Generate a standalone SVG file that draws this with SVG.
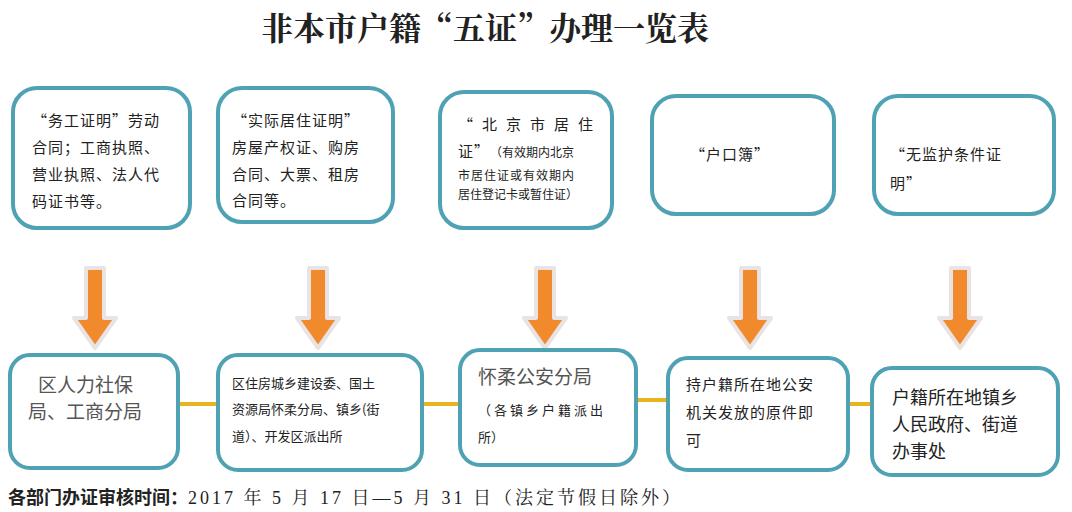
<svg xmlns="http://www.w3.org/2000/svg" width="1072" height="512" viewBox="0 0 1072 512">
<style>
.b{fill:#fff;stroke:#4fa2b3;stroke-width:4}
.t{font-family:"Noto Sans CJK SC",sans-serif;fill:#222}
.s{font-size:15px;letter-spacing:1px}.l{font-size:19px}.xs{font-size:12px}
.c{stroke:#e8b321;stroke-width:4}
</style>
<defs>
<g id="arr"><path d="M-9,0 H9 V50 H21 L0,80 L-21,50 H-9 Z" fill="#f08a2c" stroke="#e9e3e3" stroke-width="4" stroke-linejoin="round"/></g>
</defs>
<rect width="1072" height="512" fill="#fff"/>
<text x="485" y="40" text-anchor="middle" class="t" style="font-size:32px;font-weight:bold;font-family:'Noto Serif CJK SC','Noto Sans CJK SC',serif">非本市户籍“五证”办理一览表</text>
<g id="connectors">
<line class="c" x1="178" y1="404" x2="218" y2="404"/>
<line class="c" x1="422" y1="404" x2="460" y2="404"/>
<line class="c" x1="636" y1="400" x2="668" y2="400"/>
<line class="c" x1="848" y1="404" x2="872" y2="404"/>
<use href="#arr" x="95" y="268"/><use href="#arr" x="318" y="268"/><use href="#arr" x="545" y="268"/><use href="#arr" x="750" y="268"/><use href="#arr" x="960" y="268"/>
</g>
<g id="n1"><rect class="b" x="13" y="88" width="177" height="140" rx="24"/>
<text class="t s"><tspan x="32" y="126">“务工证明”劳动</tspan><tspan x="32" y="153">合同；工商执照、</tspan><tspan x="32" y="180">营业执照、法人代</tspan><tspan x="32" y="207">码证书等。</tspan></text></g>
<g id="n2"><rect class="b" x="218" y="88" width="175" height="134" rx="24"/>
<text class="t s"><tspan x="232" y="126">“实际居住证明”</tspan><tspan x="232" y="153">房屋产权证、购房</tspan><tspan x="232" y="180">合同、大票、租房</tspan><tspan x="232" y="206">合同等。</tspan></text></g>
<g id="n3"><rect class="b" x="440" y="92" width="172" height="136" rx="24"/>
<text class="t"><tspan class="s" x="458" y="130" style="letter-spacing:9px">“北京市居住</tspan><tspan class="s" x="458" y="157">证”</tspan><tspan class="xs" dx="6">（有效期内北京</tspan><tspan class="xs" x="458" y="180" style="letter-spacing:1px">市居住证或有效期内</tspan><tspan class="xs" x="458" y="199">居住登记卡或暂住证）</tspan></text></g>
<g id="n4"><rect class="b" x="652" y="96" width="182" height="118" rx="24"/>
<text class="t s" x="690" y="160">“户口簿”</text></g>
<g id="n5"><rect class="b" x="874" y="96" width="180" height="118" rx="24"/>
<text class="t s"><tspan x="890" y="160">“无监护条件证</tspan><tspan x="890" y="189">明”</tspan></text></g>
<g id="m1"><rect class="b" x="10" y="355" width="168" height="113" rx="20"/>
<text class="t l" style="fill:#555"><tspan x="38" y="392">区人力社保</tspan><tspan x="28" y="419">局、工商分局</tspan></text></g>
<g id="m2"><rect class="b" x="218" y="355" width="204" height="115" rx="20"/>
<text class="t" style="font-size:13px"><tspan x="232" y="388">区住房城乡建设委、国土</tspan><tspan x="232" y="414">资源局怀柔分局、镇乡(街</tspan><tspan x="232" y="441">道）、开发区派出所</tspan></text></g>
<g id="m3"><rect class="b" x="460" y="350" width="176" height="115" rx="20"/>
<text class="t"><tspan class="l" style="fill:#555" x="478" y="384">怀柔公安分局</tspan><tspan style="font-size:13px;letter-spacing:3px" x="478" y="415">（各镇乡户籍派出</tspan><tspan style="font-size:13px" x="478" y="442">所）</tspan></text></g>
<g id="m4"><rect class="b" x="668" y="358" width="180" height="112" rx="20"/>
<text class="t s"><tspan x="686" y="390">持户籍所在地公安</tspan><tspan x="686" y="418">机关发放的原件即</tspan><tspan x="686" y="446">可</tspan></text></g>
<g id="m5"><rect class="b" x="872" y="368" width="186" height="107" rx="20"/>
<text class="t" style="font-size:18px"><tspan x="892" y="404">户籍所在地镇乡</tspan><tspan x="892" y="431">人民政府、街道</tspan><tspan x="892" y="458">办事处</tspan></text></g>
<text x="8" y="504" class="t" style="font-size:18px"><tspan font-weight="bold">各部门办证审核时间：</tspan><tspan style="font-family:'Liberation Serif','Noto Serif CJK SC','Noto Sans CJK SC',serif;font-size:18px;letter-spacing:3px">2017 年 5 月 17 日—5 月 31 日（法定节假日除外）</tspan></text>
</svg>
